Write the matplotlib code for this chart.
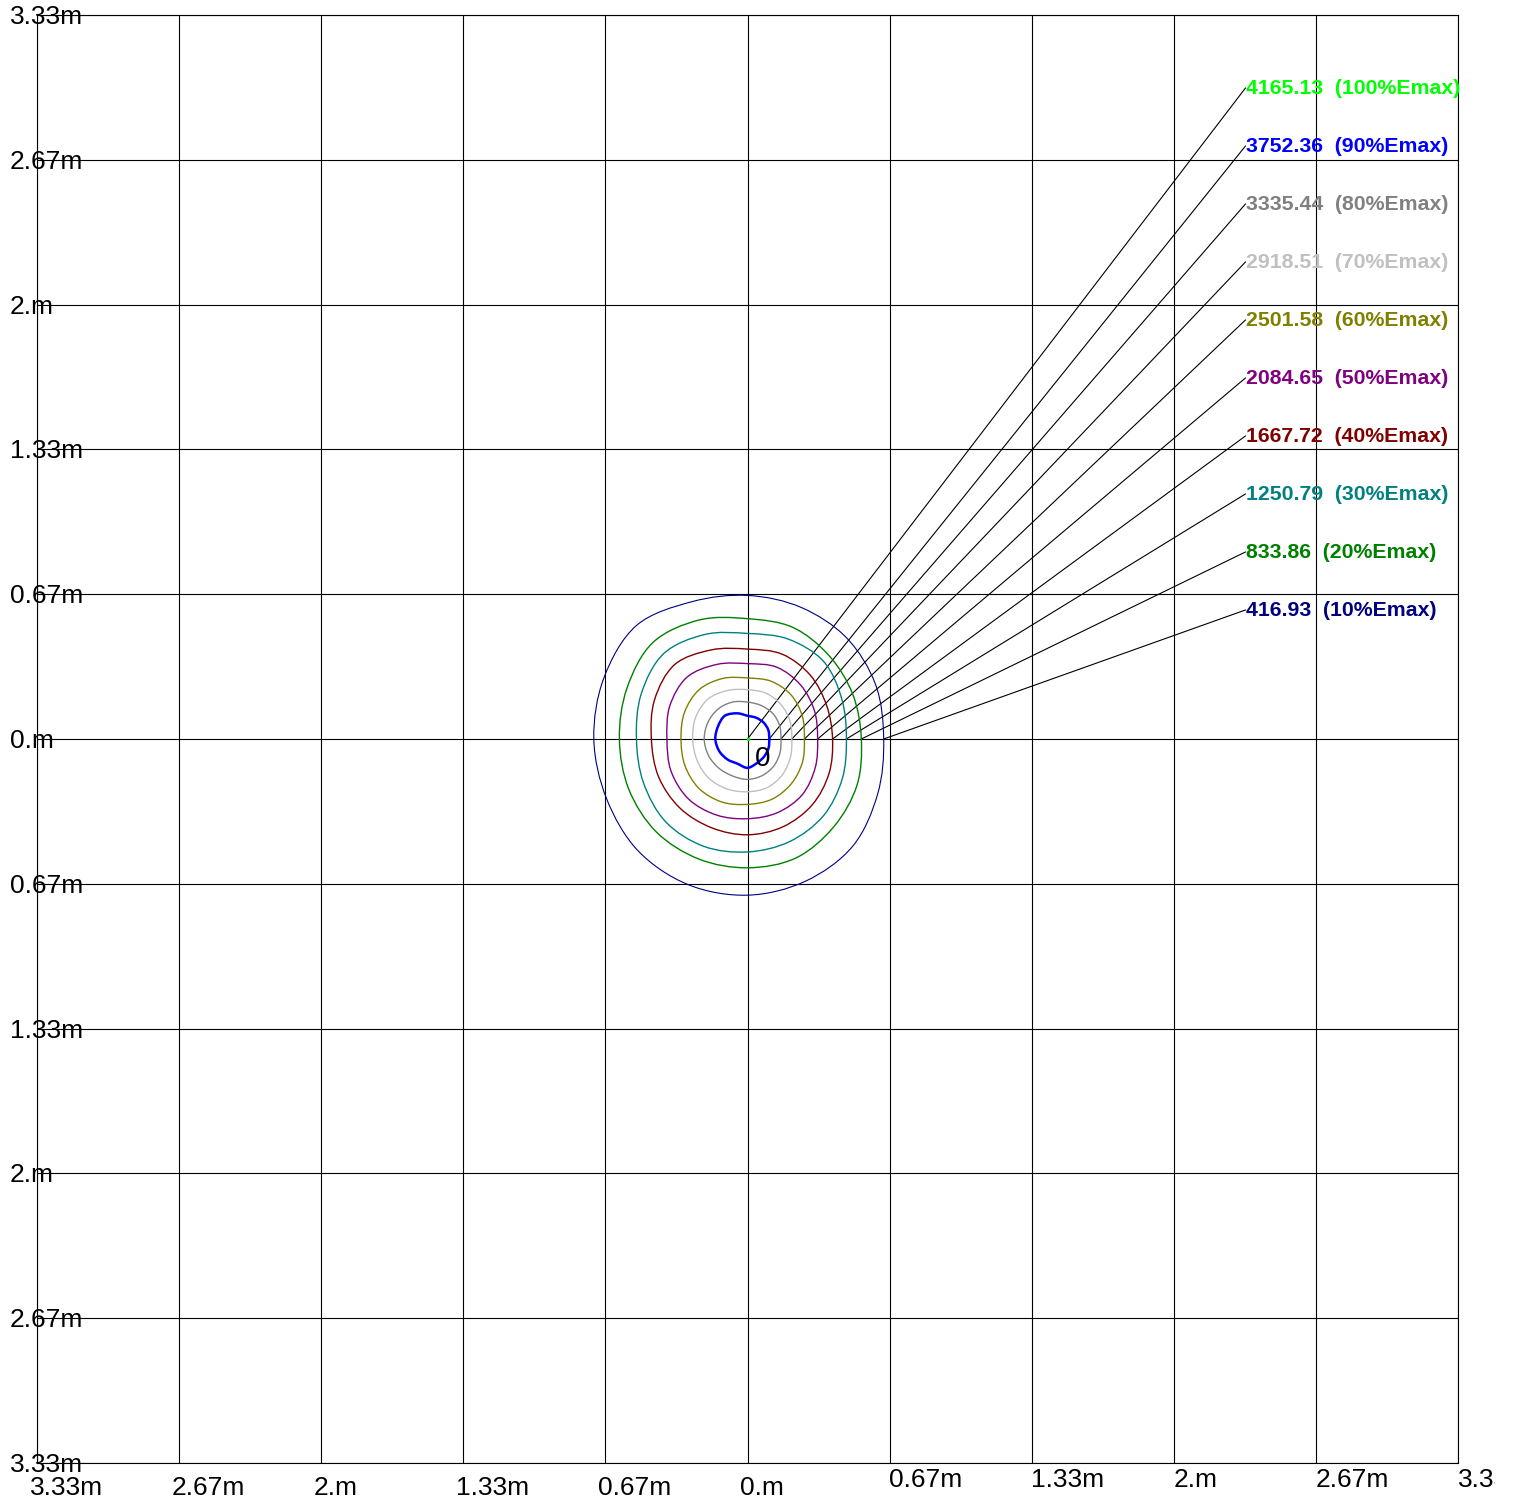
import matplotlib
matplotlib.use("Agg")
import matplotlib.pyplot as plt
import numpy as np
from matplotlib.path import Path
from matplotlib.patches import PathPatch
from matplotlib.transforms import blended_transform_factory, offset_copy, Bbox, TransformedBbox

plt.rcParams['font.family'] = ['Liberation Sans', 'DejaVu Sans']

# isolux levels (lux) and their share of Emax
levels_lux = [4165.13, 3752.36, 3335.44, 2918.51, 2501.58, 2084.65, 1667.72, 1250.79, 833.86, 416.93]
levels_pct = [100, 90, 80, 70, 60, 50, 40, 30, 20, 10]
level_colors = ['#00ff00', '#0000ff', '#808080', '#c0c0c0', '#808000',
                '#800080', '#800000', '#008080', '#008000', '#000080']

# contour radius (m) read at these directions, counter-clockwise from +x
angles_deg = [0, 22.5, 45, 67.5, 90, 112.5, 135, 157.5, 180, 202.5, 225, 247.5, 270, 292.5, 315, 337.5]
r_90 = [0.102, 0.106, 0.107, 0.106, 0.107, 0.128, 0.151, 0.150, 0.151, 0.144, 0.133, 0.123, 0.133, 0.119, 0.112, 0.107]
r_80 = [0.157, 0.163, 0.167, 0.167, 0.170, 0.184, 0.195, 0.201, 0.203, 0.198, 0.190, 0.184, 0.186, 0.182, 0.175, 0.165]
r_70 = [0.208, 0.216, 0.223, 0.228, 0.227, 0.242, 0.261, 0.263, 0.257, 0.256, 0.256, 0.249, 0.243, 0.242, 0.232, 0.218]
r_60 = [0.267, 0.278, 0.288, 0.288, 0.281, 0.302, 0.321, 0.320, 0.312, 0.318, 0.322, 0.314, 0.301, 0.300, 0.291, 0.279]
r_50 = [0.329, 0.340, 0.352, 0.358, 0.347, 0.372, 0.402, 0.395, 0.378, 0.388, 0.391, 0.379, 0.367, 0.367, 0.363, 0.344]
r_40 = [0.399, 0.402, 0.416, 0.423, 0.414, 0.444, 0.484, 0.472, 0.451, 0.452, 0.449, 0.442, 0.441, 0.437, 0.429, 0.414]
r_30 = [0.464, 0.479, 0.505, 0.498, 0.486, 0.521, 0.556, 0.540, 0.521, 0.528, 0.541, 0.535, 0.520, 0.512, 0.502, 0.481]
r_20 = [0.534, 0.535, 0.542, 0.556, 0.554, 0.593, 0.628, 0.612, 0.601, 0.603, 0.605, 0.598, 0.593, 0.593, 0.572, 0.556]
r_10 = [0.639, 0.651, 0.658, 0.656, 0.661, 0.684, 0.738, 0.730, 0.721, 0.716, 0.727, 0.726, 0.719, 0.709, 0.698, 0.661]
contour_radii = [None, r_90, r_80, r_70, r_60, r_50, r_40, r_30, r_20, r_10]

half = 10.0 / 3.0
grid_vals = np.linspace(-half, half, 11)


def closed_curve(px, py):
    # smooth closed path through the read points (Catmull-Rom as cubic Bezier)
    p = np.column_stack([px, py])
    n = len(p)
    verts = [p[0]]
    codes = [Path.MOVETO]
    for i in range(n):
        p0, p1, p2, p3 = p[i - 1], p[i], p[(i + 1) % n], p[(i + 2) % n]
        verts += [p1 + (p2 - p0) / 6.0, p2 - (p3 - p1) / 6.0, p2]
        codes += [Path.CURVE4] * 3
    return Path(verts, codes)


W, H = 1513, 1499
fig = plt.figure(figsize=(W / 100, H / 100), dpi=100)
ax = fig.add_axes([37 / W, 36 / H, 1421 / W, 1448 / H])
ax.set_xlim(-half, half)
ax.set_ylim(-half, half)
ax.set_xticks(grid_vals)
ax.set_yticks(grid_vals)
ax.tick_params(length=0, labelbottom=False, labelleft=False)
ax.grid(True, color='black', lw=0.8)
for s in ax.spines.values():
    s.set_color('black')
    s.set_linewidth(0.8)

# isolux curves
th = np.deg2rad(angles_deg)
for radii, col in zip(contour_radii, level_colors):
    if radii is None:
        ax.plot([0], [0], 'o', color=col, ms=2.5, mec='none', zorder=4)
        continue
    rr = np.array(radii)
    lw = 1.8 if col == '#0000ff' else (0.8 if col == '#000080' else 1.0)
    ax.add_patch(PathPatch(closed_curve(rr * np.cos(th), rr * np.sin(th)),
                           fill=False, edgecolor=col, lw=lw, zorder=3))

# labels with leader lines
lab_x = 2.336
lab_y0 = 2.997
lab_step = 0.267
for i, (lux, pct, col) in enumerate(zip(levels_lux, levels_pct, level_colors)):
    radii = contour_radii[i]
    x0 = 0.0 if radii is None else radii[0]
    y_end = lab_y0 - i * lab_step
    ax.plot([x0, lab_x], [0, y_end], color='black', lw=0.8, zorder=2)
    ax.text(lab_x + 0.003, y_end - 0.028, '%.2f  (%d%%Emax)' % (lux, pct), color=col,
            fontsize=15.3, fontweight='bold', ha='left', va='baseline', zorder=5)

ax.text(0, 0, '0', fontsize=20, color='black', ha='left', va='baseline',
        transform=offset_copy(ax.transData, fig=fig, x=7, y=-27, units='dots'), zorder=5)

# axis texts
fs = 19
ylab_tr = offset_copy(blended_transform_factory(fig.transFigure, ax.transData),
                      fig=fig, x=0, y=-9, units='dots')
for v in grid_vals:
    fig.text(10 / W, v, '%sm' % ('%.2f' % abs(v)).rstrip('0'), fontsize=fs,
             ha='left', va='baseline', transform=ylab_tr)

clip = TransformedBbox(Bbox.from_extents(0, 0, 1495 / W, 1), fig.transFigure)
xl_tr = blended_transform_factory(ax.transData, fig.transFigure)
for v in grid_vals:
    txt = '%sm' % ('%.2f' % abs(v)).rstrip('0')
    if v <= 0.01:
        t = fig.text(v, 4 / H, txt, fontsize=fs, ha='left', va='baseline',
                     transform=offset_copy(xl_tr, fig=fig, x=-7.5, y=0, units='dots'))
    else:
        t = fig.text(v, 12 / H, txt, fontsize=fs, ha='left', va='baseline',
                     transform=offset_copy(xl_tr, fig=fig, x=-0.5, y=0, units='dots'))
    t.set_clip_box(clip)
    t.set_clip_on(True)

fig.savefig('out.png', dpi=100)
